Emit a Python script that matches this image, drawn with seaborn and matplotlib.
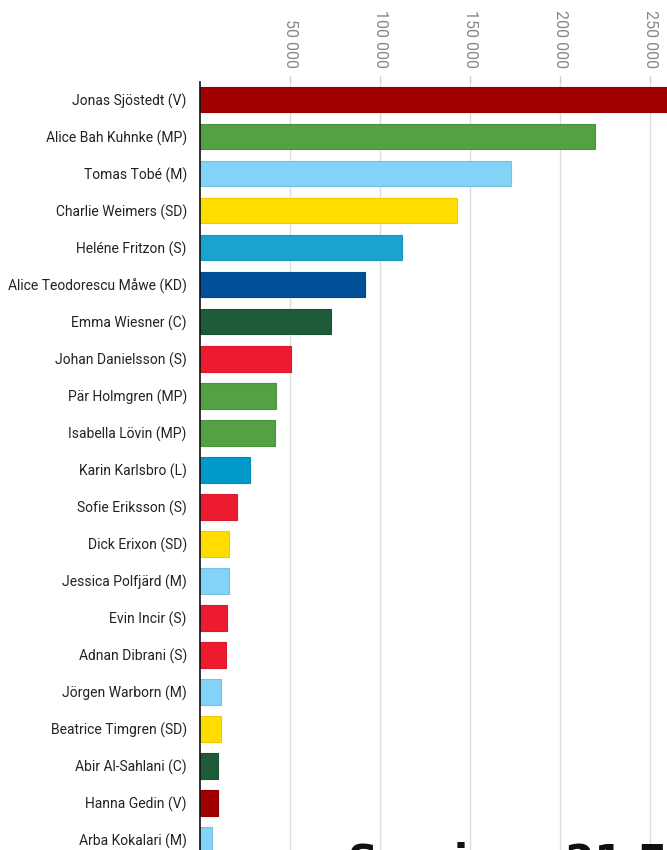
import matplotlib
matplotlib.use("Agg")
import matplotlib.pyplot as plt
import matplotlib.colors as mcolors
from matplotlib.ticker import FuncFormatter
import seaborn as sns

# Candidates, value and party colour
names = [
    "Jonas Sjöstedt (V)", "Alice Bah Kuhnke (MP)", "Tomas Tobé (M)",
    "Charlie Weimers (SD)", "Heléne Fritzon (S)", "Alice Teodorescu Måwe (KD)",
    "Emma Wiesner (C)", "Johan Danielsson (S)", "Pär Holmgren (MP)",
    "Isabella Lövin (MP)", "Karin Karlsbro (L)", "Sofie Eriksson (S)",
    "Dick Erixon (SD)", "Jessica Polfjärd (M)", "Evin Incir (S)",
    "Adnan Dibrani (S)", "Jörgen Warborn (M)", "Beatrice Timgren (SD)",
    "Abir Al-Sahlani (C)", "Hanna Gedin (V)", "Arba Kokalari (M)",
]
votes = [
    285000, 219500, 172800, 142800, 112200, 91800,
    72600, 50700, 42400, 41600, 28000, 20700,
    16300, 15900, 15200, 14600, 11700, 11500,
    10200, 9800, 6700,
]
colors = [
    "#a00000", "#53a045", "#83d2f7", "#ffdd00", "#1aa3d1", "#005099",
    "#1e5b38", "#ec1b30", "#53a045", "#53a045", "#0099c9", "#ec1b30",
    "#ffdd00", "#83d2f7", "#ec1b30", "#ec1b30", "#83d2f7", "#ffdd00",
    "#1e5b38", "#a00000", "#83d2f7",
]
x_ticks = [50000, 100000, 150000, 200000, 250000]

sns.set_style("white")
plt.rcParams["font.family"] = ["Roboto", "DejaVu Sans"]

fig = plt.figure(figsize=(6.67, 8.5), dpi=100)
ax = fig.add_axes([200 / 667, 0, 1 - 200 / 667, (850 - 82) / 850])

sns.barplot(x=votes, y=names, hue=names, palette=colors, legend=False,
            saturation=1, width=0.7, orient="h", ax=ax, zorder=3)

# thin, slightly darker edge on each bar
for patch, c in zip(ax.patches, colors):
    r, g, b = mcolors.to_rgb(c)
    patch.set_edgecolor((r * 0.92, g * 0.92, b * 0.92))
    patch.set_linewidth(0.8)

ax.set_xlim(0, 259400)
ax.set_ylim(20.28, -0.473)
ax.set_xlabel("")
ax.set_ylabel("")

ax.xaxis.tick_top()
ax.set_xticks(x_ticks)
ax.xaxis.set_major_formatter(FuncFormatter(lambda v, p: f"{int(v):,}".replace(",", " ")))
ax.tick_params(axis="x", labelrotation=-90, labelsize=11.5, labelcolor="#888888",
               color="#cccccc", length=4, width=1, pad=6)
ax.tick_params(axis="y", labelsize=10, labelcolor="#222222", length=0, pad=9.5)

ax.grid(axis="x", color="#dddddd", linewidth=1, zorder=0)
ax.set_axisbelow(True)
for side in ["top", "right", "bottom"]:
    ax.spines[side].set_visible(False)
ax.spines["left"].set_color("#111111")
ax.spines["left"].set_linewidth(1.2)
ax.spines["left"].set_zorder(4)

# heading of the next section, only its top shows at the bottom edge
fig.text(348 / 667, -25 / 850, "Sveriges 21 EU-parlamentariker", fontsize=30,
         fontweight="bold", family="DejaVu Sans", color="#111111",
         ha="left", va="baseline")

fig.savefig("out.png", dpi=100)
